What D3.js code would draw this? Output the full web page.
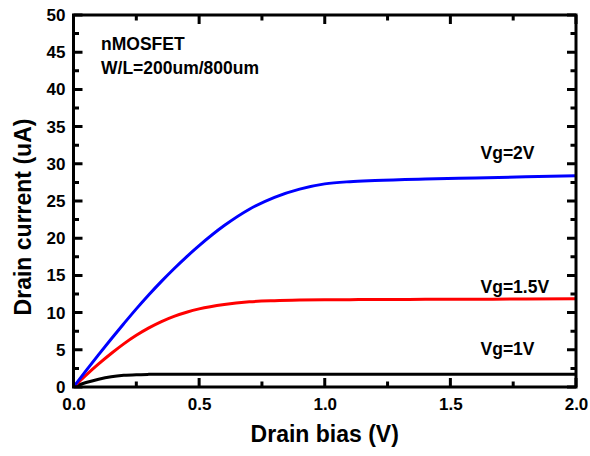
<!DOCTYPE html>
<html>
<head>
<meta charset="utf-8">
<script src="https://cdn.jsdelivr.net/npm/d3@7"></script>
<style>
  body { margin: 0; background: #fff; }
  svg text { font-family: "Liberation Sans", Arial, sans-serif; font-weight: bold; fill: #000; }
</style>
</head>
<body>
<svg id="chart" width="590" height="456"></svg>
<script>
// drain bias (V)
const vds = [0, 0.05, 0.1, 0.15, 0.2, 0.25, 0.3, 0.35, 0.4, 0.45, 0.5, 0.6, 0.7, 0.8, 0.9, 1.0, 1.1, 1.2, 1.4, 1.6, 1.8, 2.0];
// drain current (uA) per gate voltage
const idVg2 = [0, 2.2, 4.35, 6.45, 8.5, 10.5, 12.4, 14.2, 15.9, 17.5, 19.0, 21.7, 23.9, 25.5, 26.6, 27.3, 27.6, 27.75, 27.95, 28.1, 28.25, 28.4];
const idVg15 = [0, 1.6, 3.1, 4.5, 5.8, 6.95, 7.95, 8.8, 9.5, 10.05, 10.5, 11.1, 11.45, 11.6, 11.68, 11.72, 11.74, 11.76, 11.78, 11.8, 11.82, 11.85];
const idVg1 = [0, 0.6, 1.05, 1.38, 1.57, 1.66, 1.7, 1.72, 1.72, 1.72, 1.72, 1.72, 1.72, 1.72, 1.72, 1.72, 1.72, 1.72, 1.72, 1.72, 1.72, 1.72];

const seriesNames = ["Vg=1V", "Vg=1.5V", "Vg=2V"];
const seriesColors = ["#000000", "#ff0000", "#0000ff"];
const seriesValues = [idVg1, idVg15, idVg2];

const xMajor = [0, 0.5, 1.0, 1.5, 2.0];
const xMinor = [0.25, 0.75, 1.25, 1.75];
const yMajor = [0, 5, 10, 15, 20, 25, 30, 35, 40, 45, 50];
const yMinor = [2.5, 7.5, 12.5, 17.5, 22.5, 27.5, 32.5, 37.5, 42.5, 47.5];

// label positions in data units
const labelPos = [[1.62, 4.3], [1.62, 12.7], [1.62, 30.7]];

const svg = d3.select("#chart");
const margin = { left: 73.5, right: 14, top: 15, bottom: 69 };
const W = 590 - margin.left - margin.right;
const H = 456 - margin.top - margin.bottom;
const majorLen = 9, minorLen = 5.5;

const x = d3.scaleLinear().domain([0, 2]).range([0, W]);
const y = d3.scaleLinear().domain([0, 50]).range([H, 0]);

const g = svg.append("g").attr("transform", `translate(${margin.left},${margin.top})`);

g.append("clipPath").attr("id", "clip")
  .append("rect").attr("width", W).attr("height", H);

// curves
const curve = d3.line()
  .x((d, i) => x(vds[i]))
  .y(d => y(d))
  .curve(d3.curveMonotoneX);

seriesValues.forEach((vals, k) => {
  g.append("path")
    .datum(vals)
    .attr("clip-path", "url(#clip)")
    .attr("fill", "none")
    .attr("stroke", seriesColors[k])
    .attr("stroke-width", 3)
    .attr("d", curve);
});

// frame
g.append("rect")
  .attr("width", W).attr("height", H)
  .attr("fill", "none").attr("stroke", "#000").attr("stroke-width", 3);

// tick labels from d3 axes
function styleAxis(sel) {
  sel.select(".domain").remove();
  sel.selectAll(".tick line").remove();
  sel.selectAll(".tick text").attr("font-size", 17);
}

g.append("g").attr("transform", `translate(0,${H})`)
  .call(d3.axisBottom(x).tickValues(xMajor).tickSize(0).tickPadding(11).tickFormat(d3.format(".1f")))
  .call(styleAxis);
g.append("g")
  .call(d3.axisLeft(y).tickValues(yMajor).tickSize(0).tickPadding(8))
  .call(styleAxis);

// inward tick marks on all four sides, placed with the scales
function tickPath(vals, len) {
  let d = "";
  vals.forEach(v => {
    const px = x(v);
    d += `M${px},${H}v${-len}M${px},0v${len}`;
  });
  return d;
}
function tickPathY(vals, len) {
  let d = "";
  vals.forEach(v => {
    const py = y(v);
    d += `M0,${py}h${len}M${W},${py}h${-len}`;
  });
  return d;
}
[[tickPath(xMajor, majorLen)], [tickPath(xMinor, minorLen)],
 [tickPathY(yMajor, majorLen)], [tickPathY(yMinor, minorLen)]].forEach(([d]) => {
  g.append("path")
    .attr("d", d)
    .attr("fill", "none")
    .attr("stroke", "#000")
    .attr("stroke-width", 3);
});

// series labels
seriesNames.forEach((name, k) => {
  g.append("text")
    .attr("x", x(labelPos[k][0]))
    .attr("y", y(labelPos[k][1]))
    .attr("font-size", 17.5)
    .text(name);
});

// device annotation
g.append("text").attr("x", 27.5).attr("y", 35).attr("font-size", 17.5).text("nMOSFET");
g.append("text").attr("x", 27.5).attr("y", 58.5).attr("font-size", 17.5).text("W/L=200um/800um");

// axis titles
svg.append("text")
  .attr("x", margin.left + W / 2).attr("y", 442)
  .attr("text-anchor", "middle").attr("font-size", 23)
  .text("Drain bias (V)");

svg.append("text")
  .attr("transform", `translate(31,${margin.top + H / 2 + 16}) rotate(-90)`)
  .attr("text-anchor", "middle").attr("font-size", 23)
  .text("Drain current (uA)");
</script>
</body>
</html>
